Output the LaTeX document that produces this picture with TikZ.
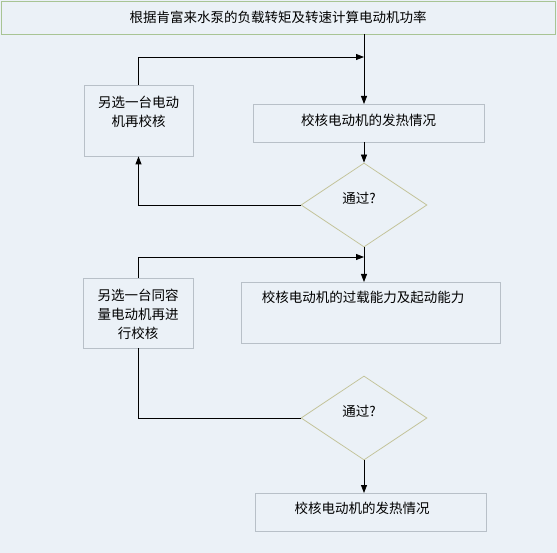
\documentclass[tikz,border=0pt]{standalone}
\usepackage{fontspec}
\newfontfamily\cjk{Noto Sans CJK SC}
\usetikzlibrary{shapes.geometric,arrows.meta}
\definecolor{bg}{HTML}{EBF1F7}
\definecolor{boxline}{HTML}{B8C0C8}
\definecolor{topline}{HTML}{A8C494}
\definecolor{dialine}{HTML}{C4C49C}
\begin{document}
\begin{tikzpicture}[x=1pt,y=-1pt,
  every node/.style={font=\cjk\fontsize{13.5}{19}\selectfont},
  box/.style={draw=boxline,line width=0.8pt,fill=bg,rectangle,inner sep=0pt},
  dia/.style={draw=dialine,line width=0.8pt,fill=bg,diamond,inner sep=0pt,minimum width=126pt,minimum height=84pt},
  txt/.style={inner sep=0pt,align=center},
  conn/.style={line width=0.8pt,black},
  arr/.style={conn,-{Triangle[length=8pt,width=6pt]}}]
\useasboundingbox (0,0) rectangle (557,553);
\fill[bg] (0,0) rectangle (557,553);
% top box
\node[draw=topline,line width=0.9pt,fill=bg,rectangle,inner sep=0pt,minimum width=554pt,minimum height=33pt] (top) at (278,17.5) {};
\node[txt] (toptxt) at (278,17) {根据肯富来水泵的负载转矩及转速计算电动机功率};
% left box 1
\node[box,minimum width=109pt,minimum height=71pt] (l1) at (138.5,120.5) {};
\node[txt] (l1t) at (138.5,112) {另选一台电动\\机再校核};
% box 2
\node[box,minimum width=231pt,minimum height=38pt] (b2) at (368.5,123) {};
\node[txt] (b2t) at (368.5,120) {校核电动机的发热情况};
% diamond 1
\node[dia] (d1) at (364,205) {};
\node[txt] (d1t) at (359,198) {通过?};
% left box 2
\node[box,minimum width=110pt,minimum height=70pt] (l2) at (138,313) {};
\node[txt] (l2t) at (138,314) {另选一台同容\\量电动机再进\\行校核};
% box 3
\node[box,minimum width=259pt,minimum height=61pt] (b3) at (370.5,312.5) {};
\node[txt] (b3t) at (363,297) {校核电动机的过载能力及起动能力};
% diamond 2
\node[dia] (d2) at (364,418) {};
\node[txt] (d2t) at (359,411) {通过?};
% box 4
\node[box,minimum width=231pt,minimum height=38pt] (b4) at (370.5,512) {};
\node[txt] (b4t) at (362,508) {校核电动机的发热情况};
% coordinates
\coordinate (j1) at (364,57);
\coordinate (j2) at (364,257);
% connectors
\draw[conn] (364,34) -- (j1);
\draw[arr] (j1) -- (364,104);
\draw[arr] (l1.north) |- (j1);
\draw[arr] (364,142) -- (d1.north);
\draw[arr] (d1.west) -| (l1.south);
\draw[conn] (d1.south) -- (j2);
\draw[arr] (j2) -- (364,282);
\draw[arr] (l2.north) |- (j2);
\draw[conn] (l2.south) |- (d2.west);
\draw[arr] (d2.south) -- (364,493);
\end{tikzpicture}
\end{document}
